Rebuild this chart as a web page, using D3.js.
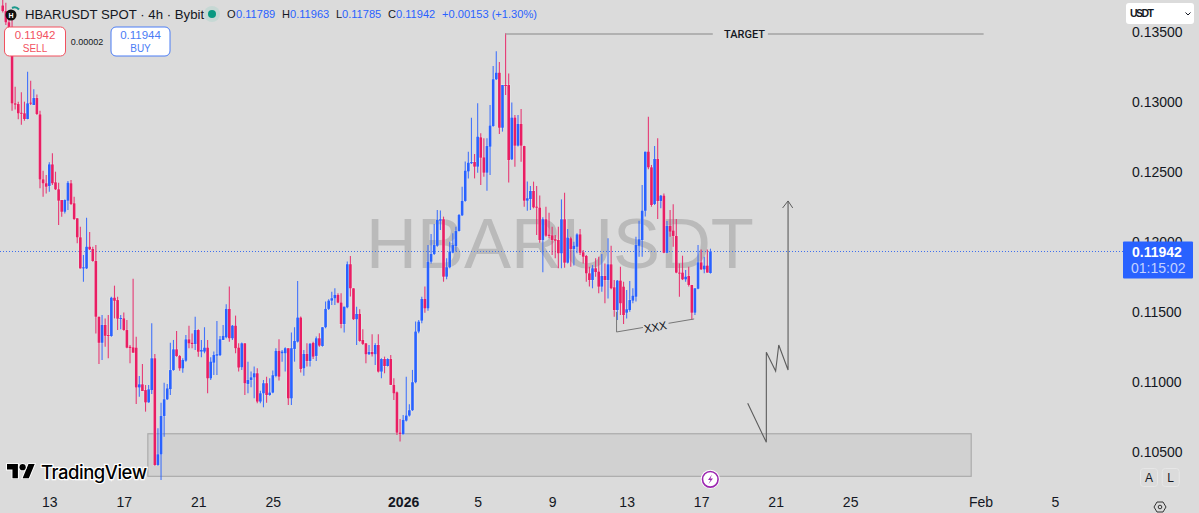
<!DOCTYPE html>
<html><head><meta charset="utf-8">
<script src="https://cdn.jsdelivr.net/npm/d3@7"></script>
<style>
html,body{margin:0;padding:0;background:#dbdbdb;overflow:hidden}
svg{display:block;font-family:"Liberation Sans",Arial,sans-serif}
</style></head><body><svg id="c" width="1199" height="513"></svg>
<script>
const firstBar = new Date(2025,11,10,12);
const barHours = 4;
const opens = [.13700,.13660,.13580,
.13500,.13001,.12996,.12934,.12930,.12889,.13006,.12989,.13039,.12922,
.12458,.12430,.12411,.12565,.12437,.12387,.12311,.12227,.12306,.12430,
.12287,.12180,.12044,.11822,.11822,.11977,.11961,.11875,.11477,.11291,
.11418,.11346,.11339,.11613,.11596,.11461,.11465,.11382,.11263,.11258,
.11256,.10972,.10994,.10953,.10865,.10953,.11180,.10418,.10494,.10768,
.10887,.10960,.11096,.11244,.11196,.11108,.11163,.11315,.11291,.11282,
.11382,.11228,.11228,.11256,.11037,.11149,.11199,.11202,.11311,.11330,
.11533,.11323,.11413,.11256,.11116,.11287,.10997,.11025,.11044,.11073,
.10871,.10930,.11002,.10918,.10935,.11054,.11233,.11216,.11216,.11252,
.10894,.11247,.11299,.11471,.11109,.11211,.11161,.11290,.11197,.11323,
.11268,.11402,.11533,.11592,.11609,.11633,.11578,.11425,.11544,.11852,
.11680,.11459,.11497,.11311,.11287,.11209,.11225,.11209,.11275,.11085,
.11175,.11125,.11175,.10990,.10937,.10649,.10637,.10735,.10771,.10809,
.11009,.11371,.11449,.11604,.11537,.11870,.11925,.11984,.12163,.12173,
.11763,.11830,.11935,.11982,.12089,.12201,.12304,.12515,.12573,.12582,
.12549,.12758,.12615,.12506,.12692,.12839,.13173,.13220,.12827,.13132,
.13132,.12601,.12899,.12699,.12854,.12696,.12306,.12318,.12375,.12263,
.12256,.12025,.12173,.12063,.12058,.12030,.12025,.11930,.12173,.11863,
.12037,.11961,.11977,.12065,.11937,.11911,.11787,.11739,.11823,.11799,
.11692,.11768,.11739,.11851,.11687,.11525,.11735,.11692,.11506,.11525,
.11592,.11620,.11984,.12025,.12234,.12656,.12544,.12282,.12604,.12304,
.12342,.11934,.12125,.12092,.12054,.11792,.11792,.11744,.11768,.11704,
.11506,.11677,.11865,.11815,.11842,.11789];
const highs = [.13800,.13720,.13640,
.13600,.13120,.13013,.13080,.13013,.13227,.13163,.13101,.13065,.12949,
.12520,.12489,.12580,.12644,.12513,.12434,.12311,.12315,.12446,.12453,
.12334,.12180,.12120,.11918,.12184,.12082,.11977,.11989,.11477,.11489,
.11465,.11489,.11620,.11699,.11620,.11489,.11508,.11453,.11275,.11749,
.11334,.11053,.11139,.10989,.10989,.11430,.11211,.10680,.10863,.11006,
.10996,.11291,.11311,.11375,.11203,.11180,.11346,.11413,.11358,.11477,
.11387,.11311,.11402,.11311,.11187,.11228,.11447,.11340,.11418,.11566,
.11692,.11418,.11485,.11287,.11292,.11287,.11156,.11085,.11121,.11109,
.10949,.11025,.11049,.11037,.11092,.11252,.11316,.11240,.11259,.11252,
.11364,.11402,.11733,.11478,.11240,.11287,.11287,.11299,.11335,.11359,
.11402,.11585,.11602,.11656,.11680,.11644,.11644,.11549,.11871,.11911,
.11680,.11549,.11530,.11387,.11287,.11275,.11352,.11287,.11352,.11180,
.11192,.11180,.11204,.11037,.10942,.10747,.10775,.11049,.10852,.11097,
.11442,.11454,.11620,.11692,.11989,.12068,.12139,.12239,.12235,.12192,
.11894,.12013,.12073,.12120,.12211,.12406,.12585,.12656,.12899,.12639,
.13001,.12787,.12751,.12751,.12989,.13268,.13373,.13296,.13132,.13501,
.13215,.13008,.12918,.12918,.12961,.12699,.12442,.12411,.12442,.12411,
.12342,.12187,.12263,.12220,.12120,.12061,.12120,.12315,.12363,.12104,
.12049,.12013,.12073,.12104,.11954,.11918,.11834,.11846,.11894,.11906,
.11925,.11858,.12037,.11984,.11739,.11739,.11834,.11727,.11668,.11732,
.11680,.12049,.12163,.12418,.12656,.12906,.12561,.12696,.12751,.12346,
.12358,.12161,.12239,.12280,.12175,.11858,.11913,.11811,.11834,.11704,
.11680,.11989,.11958,.11906,.11958,.11963];
const lows = [.13650,.13560,.13480,
.12949,.12958,.12887,.12849,.12877,.12887,.12989,.12989,.12918,.12394,
.12334,.12358,.12370,.12418,.12382,.12132,.12191,.12215,.12239,.12275,
.12168,.12001,.11822,.11727,.11818,.11953,.11870,.11358,.11139,.11168,
.11263,.11180,.11334,.11465,.11382,.11387,.11377,.11251,.11144,.11220,
.10853,.10906,.10946,.10799,.10863,.10925,.10413,.10413,.10310,.10620,
.10882,.10918,.11091,.11191,.11091,.11077,.11156,.11251,.11251,.11239,
.11191,.11187,.11216,.10930,.11025,.11061,.11061,.11197,.11311,.11323,
.11299,.11311,.11216,.11085,.11097,.10918,.10930,.10973,.10894,.10859,
.10859,.10830,.10863,.10913,.10930,.11044,.11021,.11156,.11085,.10847,
.10847,.11156,.11292,.11078,.11056,.11121,.11121,.11175,.11161,.11263,
.11263,.11394,.11525,.11561,.11561,.11573,.11394,.11364,.11537,.11621,
.11454,.11275,.11299,.11275,.11144,.11204,.11192,.11133,.11078,.11037,
.11073,.11121,.10990,.10883,.10633,.10585,.10637,.10728,.10764,.10804,
.11002,.11359,.11430,.11506,.11520,.11858,.11918,.11977,.12096,.11727,
.11744,.11823,.11930,.11942,.12085,.12196,.12299,.12465,.12568,.12465,
.12506,.12418,.12477,.12377,.12489,.12834,.13168,.12782,.12799,.13061,
.12435,.12596,.12549,.12692,.12584,.12263,.12234,.12239,.12251,.12061,
.12005,.11794,.12049,.12037,.11918,.11894,.11823,.11823,.11827,.11858,
.11834,.11842,.11930,.11918,.11858,.11727,.11692,.11680,.11763,.11644,
.11656,.11573,.11608,.11673,.11477,.11454,.11489,.11425,.11465,.11513,
.11573,.11585,.11906,.11906,.12192,.12530,.12263,.12275,.12175,.12251,
.11930,.11930,.12049,.11977,.11787,.11620,.11739,.11727,.11692,.11454,
.11489,.11673,.11811,.11787,.11792,.11785];
const closes = [.13660,.13580,.13500,
.13001,.12992,.12930,.12927,.12889,.13001,.12999,.13039,.12925,.12458,
.12430,.12406,.12565,.12430,.12387,.12306,.12227,.12311,.12434,.12282,
.12175,.12044,.11822,.11830,.11977,.11958,.11875,.11477,.11291,.11418,
.11341,.11339,.11613,.11591,.11463,.11468,.11382,.11256,.11253,.11220,
.10972,.10994,.10946,.10865,.10958,.11180,.10418,.10494,.10768,.10887,
.10965,.11096,.11244,.11196,.11108,.11168,.11315,.11287,.11282,.11382,
.11227,.11240,.11256,.11037,.11156,.11204,.11209,.11316,.11340,.11533,
.11323,.11413,.11252,.11114,.11287,.11002,.11025,.11044,.11073,.10871,
.10930,.11002,.10918,.10935,.11059,.11233,.11049,.11228,.11252,.10894,
.11252,.11304,.11471,.11104,.11211,.11161,.11285,.11192,.11323,.11271,
.11402,.11533,.11592,.11609,.11633,.11578,.11425,.11549,.11852,.11680,
.11459,.11497,.11304,.11283,.11209,.11225,.11209,.11275,.11085,.11175,
.11125,.11175,.10990,.10930,.10649,.10640,.10740,.10771,.10809,.11009,
.11371,.11442,.11604,.11537,.11870,.11925,.11989,.12168,.12173,.11763,
.11830,.11942,.11989,.12089,.12204,.12304,.12520,.12577,.12582,.12549,
.12763,.12613,.12506,.12696,.12842,.13173,.13220,.12827,.13132,.13127,
.12596,.12899,.12699,.12854,.12699,.12306,.12323,.12375,.12258,.12256,
.12025,.12173,.12056,.12054,.12025,.12020,.11930,.12173,.11863,.12042,
.11961,.11984,.12065,.11934,.11906,.11787,.11739,.11823,.11796,.11692,
.11768,.11739,.11851,.11680,.11525,.11735,.11573,.11489,.11530,.11596,
.11627,.11989,.12030,.12234,.12656,.12544,.12275,.12604,.12304,.12342,
.11934,.12125,.12085,.12054,.11792,.11787,.11744,.11763,.11704,.11506,
.11680,.11865,.11815,.11842,.11792,.11942];

const priceTicks = [.135,.13,.125,.12,.115,.11,.105];
const timeTicks = [[new Date(2025,11,13),"13"],[new Date(2025,11,17),"17"],[new Date(2025,11,21),"21"],[new Date(2025,11,25),"25"],[new Date(2026,0,1),"2026"],[new Date(2026,0,5),"5"],[new Date(2026,0,9),"9"],[new Date(2026,0,13),"13"],[new Date(2026,0,17),"17"],[new Date(2026,0,21),"21"],[new Date(2026,0,25),"25"],[new Date(2026,1,1),"Feb"],[new Date(2026,1,5),"5"]];
const lastPrice = .11942;
const zoneTop = .10641, zoneBottom = .10337;
const anchor = new Date(2025,11,13);
const zoneHours = [127.8, 1188];
const targetPrice = .13496;
const targetHours = [[588.5,855],[926,1204.5]];
const scenarioHours = [900,924,924,936,940,952,952];
const scenarioPrices = [.10859,.10580,.11223,.11089,.11275,.11096,.12304];
const arrowHours = [945.5,952,958];
const arrowPrices = [.12254,.12304,.12254];
const bracketHours = [[731.9,731.9,765],[798,831]];
const bracketPrices = [[.11511,.11368,.11400],[.11430,.11461]];

const svg = d3.select("#c");
const INK = "#131722", UP = "#2962ff", DOWN = "#e91e63", BG = "#dbdbdb";
const x = d3.scaleTime().domain([new Date(2025,11,13), new Date(2026,1,5)]).range([49.3,1055]);
const y = d3.scaleLinear().domain([.105,.13]).range([453.5,103.5]);
const hx = h => x(d3.timeHour.offset(anchor,h));

svg.append("rect").attr("width",1199).attr("height",513).attr("fill",BG);

// watermark
svg.append("text").attr("x",560).attr("y",268).attr("text-anchor","middle")
  .attr("font-size",70.5).attr("fill","#bababa").text("HBARUSDT");

// zone
svg.append("rect").attr("x",hx(zoneHours[0])).attr("y",y(zoneTop))
  .attr("width",hx(zoneHours[1])-hx(zoneHours[0])).attr("height",y(zoneBottom)-y(zoneTop))
  .attr("fill","#d1d1d1").attr("stroke","#ababab").attr("stroke-width",1.2);

// last price line
const lastY = Math.floor(y(lastPrice))+.5;
svg.append("line").attr("x1",0).attr("x2",1123).attr("y1",lastY).attr("y2",lastY)
  .attr("stroke","#3f6fee").attr("stroke-width",1).attr("stroke-dasharray","1 2");

// candles
const bars = opens.map((o,i)=>({t:d3.timeHour.offset(firstBar,i*barHours),o,h:highs[i],l:lows[i],c:closes[i]}));
const col = d=>d.c>=d.o?UP:DOWN;
const bodyTop = d=>y(Math.max(d.o,d.c));
const bodyH = d=>Math.max(1,Math.abs(y(d.o)-y(d.c)));
const halo = svg.append("g").attr("stroke","#fff").attr("stroke-opacity",.3).attr("fill","none");
halo.selectAll("rect").data(bars).join("rect")
  .attr("x",d=>x(d.t)-1.3).attr("width",2.6).attr("y",bodyTop).attr("height",bodyH).attr("stroke-width",1.4);
const g = svg.append("g");
g.selectAll("line").data(bars).join("line")
  .attr("x1",d=>x(d.t)).attr("x2",d=>x(d.t)).attr("y1",d=>y(d.h)).attr("y2",d=>y(d.l))
  .attr("stroke",col).attr("stroke-width",1.1).attr("stroke-opacity",.85);
g.selectAll("rect").data(bars).join("rect")
  .attr("x",d=>x(d.t)-1.3).attr("width",2.6)
  .attr("y",bodyTop).attr("height",bodyH)
  .attr("fill",col);

// drawings
const ln = d3.line().x(d=>hx(d[0])).y(d=>y(d[1]));
const draw = (pts,w,c)=>svg.append("path").attr("d",ln(pts)).attr("fill","none").attr("stroke",c||"#5c5c5c").attr("stroke-width",w||1);
targetHours.forEach(h=>draw(h.map(v=>[v,targetPrice]),1.5,"#a3a3a3"));
svg.append("text").attr("x",744.5).attr("y",37.5).attr("text-anchor","middle").attr("font-size",11).attr("font-family","Roboto").attr("font-weight",500).attr("fill",INK).text("TARGET");
draw(scenarioHours.map((h,i)=>[h,scenarioPrices[i]]),1.1);
draw(arrowHours.map((h,i)=>[h,arrowPrices[i]]),1);
bracketHours.forEach((hs,j)=>draw(hs.map((h,i)=>[h,bracketPrices[j][i]]),1,"#777"));
svg.append("text").attr("transform","translate(656,331) rotate(-10)").attr("text-anchor","middle").attr("font-size",11.5).attr("fill",INK).text("XXX");

// axes
const yAxis = d3.axisRight(y).tickValues(priceTicks).tickFormat(d3.format(".5f")).tickSize(0).tickPadding(0);
const ya = svg.append("g").attr("transform","translate(1132,-1)").call(yAxis);
ya.select(".domain").remove();
ya.selectAll("text").attr("font-size",14).attr("font-family","'Liberation Sans'").attr("fill",INK);
const xAxis = d3.axisBottom(x).tickValues(timeTicks.map(d=>d[0])).tickFormat((d,i)=>timeTicks[i][1]).tickSize(0).tickPadding(0);
const xa = svg.append("g").attr("transform","translate(0,497)").call(xAxis);
xa.select(".domain").remove();
xa.selectAll("text").attr("font-size",14).attr("font-family","'Liberation Sans'").attr("fill",INK)
  .attr("font-weight",(d,i)=>timeTicks[i][1]==="2026"?700:400);

// last price tag
svg.append("rect").attr("x",1123).attr("y",241.5).attr("width",70).attr("height",37).attr("rx",1).attr("fill",UP);
svg.append("text").attr("x",1132).attr("y",257).attr("font-size",14).attr("font-weight",700).attr("fill","#fff").text(d3.format(".5f")(lastPrice));
svg.append("text").attr("x",1131).attr("y",273).attr("font-size",14).attr("fill","#c3d2ff").text("01:15:02");

// currency dropdown
svg.append("rect").attr("x",1126).attr("y",3).attr("width",68).attr("height",21).attr("rx",3).attr("fill","#fff");
svg.append("text").attr("x",1130).attr("y",17).attr("font-size",10.5).attr("font-weight",700).attr("fill",INK).attr("textLength",24).text("USDT");
svg.append("path").attr("d","M1185.5 12.5l2.5 2.5 2.5-2.5").attr("fill","none").attr("stroke",INK).attr("stroke-width",1);

// header
svg.append("circle").attr("cx",11).attr("cy",15).attr("r",5.5).attr("fill","#111");
svg.append("path").attr("d","M12 8a6 6 0 0 1 7 1.5").attr("fill","none").attr("stroke","#1c9a8c").attr("stroke-width",2);
svg.append("text").attr("x",11).attr("y",17.5).attr("text-anchor","middle").attr("font-size",7).attr("font-weight",700).attr("fill","#fff").text("H");
svg.append("text").attr("x",25).attr("y",19).attr("font-size",13.2).attr("fill",INK).text("HBARUSDT SPOT · 4h · Bybit");
svg.append("circle").attr("cx",212).attr("cy",14).attr("r",8).attr("fill","#c6d8d4");
svg.append("circle").attr("cx",212).attr("cy",14).attr("r",4).attr("fill","#089981");
[["O",227,INK],["0.11789",236,UP],["H",282,INK],["0.11963",290,UP],["L",336,INK],["0.11785",342,UP],["C",388,INK],["0.11942",396,UP],["+0.00153 (+1.30%)",442,UP]]
 .forEach(d=>svg.append("text").attr("x",d[1]).attr("y",18).attr("font-size",11.1).attr("fill",d[2]).text(d[0]));

// sell/buy
[[4.5,61,"#f2515f","0.11942","SELL"],[111,59,"#4a7cf5","0.11944","BUY"]].forEach(d=>{
  svg.append("rect").attr("x",d[0]).attr("y",27).attr("width",d[1]).attr("height",29).attr("rx",5).attr("fill","#fff").attr("stroke",d[2]);
  svg.append("text").attr("x",d[0]+d[1]/2).attr("y",39).attr("text-anchor","middle").attr("font-size",11.5).attr("fill",d[2]).text(d[3]);
  svg.append("text").attr("x",d[0]+d[1]/2).attr("y",52).attr("text-anchor","middle").attr("font-size",10).attr("fill",d[2]).text(d[4]);
});
svg.append("text").attr("x",87).attr("y",45).attr("text-anchor","middle").attr("font-size",9).attr("fill",INK).text("0.00002");

// logo
const lg = svg.append("g").attr("transform","translate(7,461) scale(.78)");
lg.append("path").attr("d","M14 22H7V11H0V4h14v18zM28 22h-8l7.5-18h8L28 22z").attr("fill","#000").attr("stroke","#fff").attr("stroke-width",2.4).attr("paint-order","stroke");
lg.append("circle").attr("cx",20).attr("cy",8).attr("r",4).attr("fill","#000").attr("stroke","#fff").attr("stroke-width",2.4).attr("paint-order","stroke");
svg.append("text").attr("x",41).attr("y",479).attr("font-family","Inter").attr("font-size",18.5).attr("font-weight",500).attr("fill","#000")
  .attr("stroke","#fff").attr("stroke-width",2.4).attr("paint-order","stroke").attr("textLength",106).text("TradingView");

// lightning
svg.append("circle").attr("cx",710.3).attr("cy",479.3).attr("r",9.5).attr("fill","#fff");
svg.append("circle").attr("cx",710.3).attr("cy",479.3).attr("r",7.8).attr("fill","#fff").attr("stroke","#9c27b0").attr("stroke-width",1.6);
svg.append("path").attr("d","M712 474.5l-4 5.5h2.5l-2 4 4.5-5.5h-2.6z").attr("fill","#9c27b0");

// A / L
[["A",1149],["L",1170.7]].forEach(d=>{
  svg.append("rect").attr("x",d[1]-8.5).attr("y",468.5).attr("width",17).attr("height",18).attr("rx",3).attr("fill","none").attr("stroke","#e6e6e6");
  svg.append("text").attr("x",d[1]).attr("y",482).attr("text-anchor","middle").attr("font-size",12).attr("fill",INK).text(d[0]);
});
// settings
svg.append("path").attr("d","M1154 507l3-5h6l3 5-3 5h-6z").attr("fill","none").attr("stroke","#333").attr("stroke-width",1);
svg.append("circle").attr("cx",1160).attr("cy",507).attr("r",1.8).attr("fill","none").attr("stroke","#333");
</script></body></html>
